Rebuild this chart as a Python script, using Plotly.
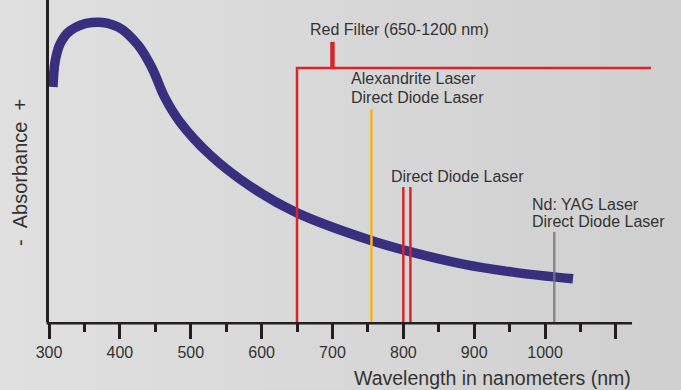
import plotly.graph_objects as go

# ---- data ----
curve_nm = [305.6, 308.5, 315.5, 329.6, 360.7, 397.4, 425.6, 445.3, 463.7, 484.9, 527.2, 583.7,
            650.0, 755.8, 799.5, 884.2, 954.8, 1039.4]
curve_abs = [73.0, 80.7, 86.3, 90.4, 93.0, 91.6, 86.0, 78.9, 69.6, 62.1, 51.9, 42.2,
             33.9, 25.2, 22.4, 18.0, 15.5, 13.4]

filter_nm = [650, 650, 1150]
filter_abs = [0, 78.9, 78.9]
filter_mark_nm = [700, 700]
filter_mark_abs = [78.9, 87.0]

alex_nm = 755
alex_top = 66.1
diode_nm = [800, 810]
diode_top = 41.9
yag_nm = 1013
yag_top = 28.0

tick_vals = [300, 400, 500, 600, 700, 800, 900, 1000, 1100]
tick_text = ["300", "400", "500", "600", "700", "800", "900", "1000", ""]

TXT = "#333333"
FONT = "Liberation Sans, Arial, sans-serif"
AXC = "#231f20"

fig = go.Figure()

# background gradient strips (decoration)
n = 40
for i in range(n):
    t = i / (n - 1)
    c = int(round(0xe0 + (0xcf - 0xe0) * t))
    col = f"rgb({c},{c},{c})"
    fig.add_shape(type="rect", xref="paper", yref="paper",
                  x0=-0.1 + i * 1.2 / n, x1=-0.1 + (i + 1.05) * 1.2 / n,
                  y0=-0.3, y1=1.05, fillcolor=col, line_width=0, layer="below")

# x axis line (shorter than the plotting range, as in the original)
fig.add_shape(type="line", xref="paper", yref="paper", x0=-0.004, x1=0.9685,
              y0=-0.0037, y1=-0.0037, line=dict(color=AXC, width=2.5), layer="above")

fig.add_trace(go.Scatter(x=curve_nm, y=curve_abs, mode="lines",
                         line=dict(color="#3a2f7e", width=9.5, shape="spline", smoothing=1.0),
                         hoverinfo="skip"))

fig.add_trace(go.Scatter(x=filter_nm, y=filter_abs, mode="lines",
                         line=dict(color="#d7262b", width=2.5), hoverinfo="skip"))
fig.add_trace(go.Scatter(x=filter_mark_nm, y=filter_mark_abs, mode="lines",
                         line=dict(color="#d7262b", width=4.5), hoverinfo="skip"))
fig.add_trace(go.Scatter(x=[alex_nm, alex_nm], y=[0, alex_top], mode="lines",
                         line=dict(color="#f2b51f", width=2.5), hoverinfo="skip"))
for d in diode_nm:
    fig.add_trace(go.Scatter(x=[d, d], y=[0, diode_top], mode="lines",
                             line=dict(color="#d7262b", width=2.5), hoverinfo="skip"))
fig.add_trace(go.Scatter(x=[yag_nm, yag_nm], y=[0, yag_top], mode="lines",
                         line=dict(color="rgba(120,120,120,0.8)", width=2.5), hoverinfo="skip"))

def label(x, y, text, anchor="left"):
    fig.add_annotation(x=x, y=y, xref="x", yref="y", text=text, showarrow=False,
                       xanchor=anchor, yanchor="middle",
                       font=dict(family=FONT, size=16, color=TXT))

label(794, 90.7, "Red Filter (650-1200 nm)", "center")
label(723, 75.5, "Alexandrite Laser")
label(723, 69.6, "Direct Diode Laser")
label(780, 45.3, "Direct Diode Laser")
label(979, 36.6, "Nd: YAG Laser")
label(979, 31.1, "Direct Diode Laser")

fig.add_annotation(x=0.970, y=-0.175, xref="paper", yref="paper", xanchor="right", yanchor="middle",
                   text="Wavelength in nanometers (nm)", showarrow=False,
                   font=dict(family=FONT, size=19.5, color=TXT))
fig.add_annotation(x=-0.048, y=0.463, xref="paper", yref="paper", xanchor="center", yanchor="middle",
                   text="-\u00a0\u00a0Absorbance\u00a0\u00a0+", showarrow=False, textangle=-90,
                   font=dict(family=FONT, size=20, color=TXT))

fig.update_layout(
    width=681, height=390,
    margin=dict(l=49, r=30, t=0, b=68, autoexpand=False),
    paper_bgcolor="#d8d8d8", plot_bgcolor="rgba(0,0,0,0)",
    showlegend=False,
    xaxis=dict(range=[300, 1149.5], showgrid=False, zeroline=False, showline=False,
               tickmode="array", tickvals=tick_vals, ticktext=tick_text,
               ticks="outside", ticklen=16, tickwidth=2.5, tickcolor=AXC,
               tickfont=dict(family=FONT, size=16, color=TXT),
               minor=dict(dtick=50, tick0=300, ticks="outside", ticklen=9, tickwidth=2.5, tickcolor=AXC)),
    yaxis=dict(range=[0, 100], showgrid=False, zeroline=False,
               showline=True, linecolor=AXC, linewidth=2.5,
               showticklabels=False, ticks=""),
)

fig.write_html("out.html", config={"displayModeBar": False},
               post_script="document.body.style.margin='0';document.body.style.overflow='hidden';")
